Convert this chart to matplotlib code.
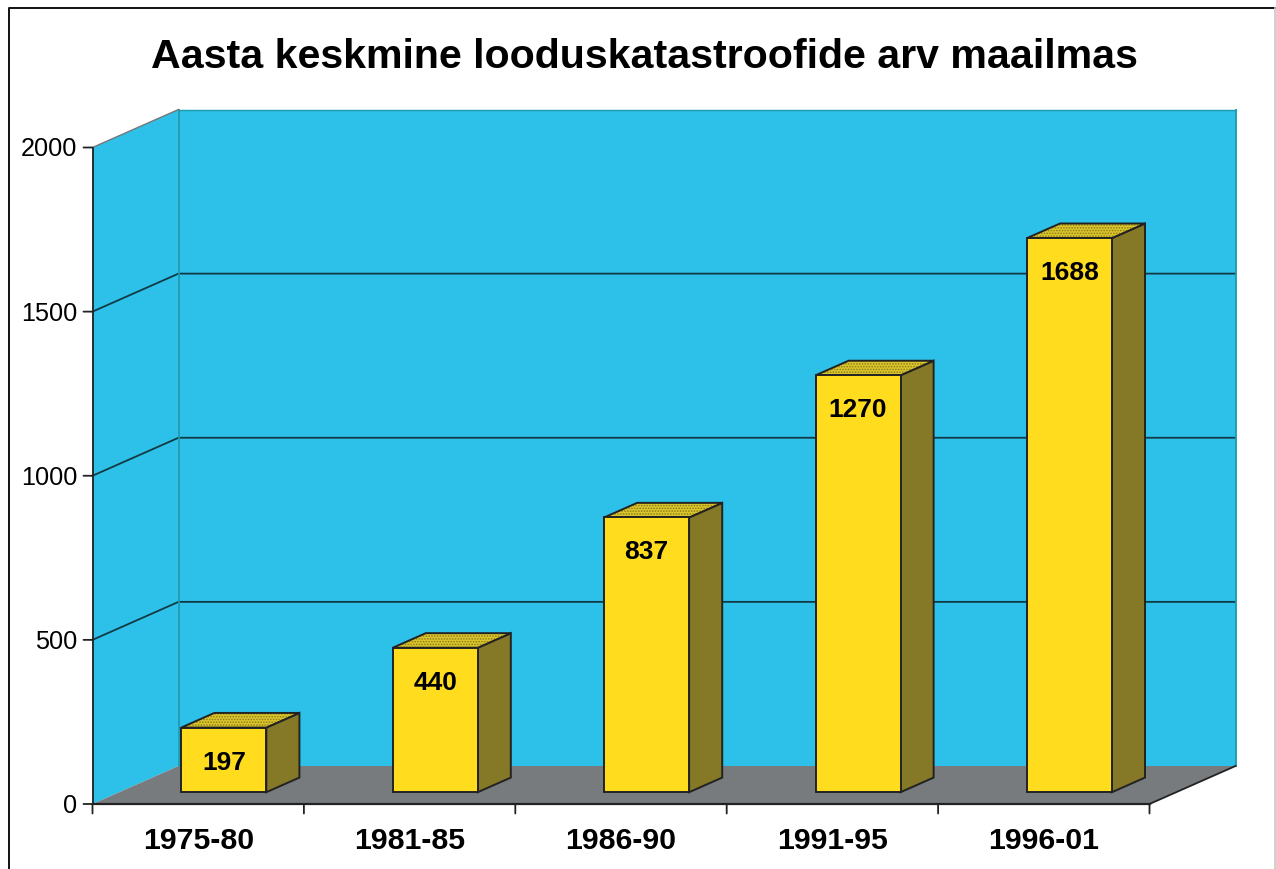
import matplotlib
matplotlib.use("Agg")
import matplotlib.pyplot as plt
from matplotlib.lines import Line2D
from matplotlib.patches import Polygon

plt.rcParams["font.family"] = ["Liberation Sans", "DejaVu Sans"]
plt.rcParams["hatch.linewidth"] = 0.8

TITLE = "Aasta keskmine looduskatastroofide arv maailmas"
periods = ["1975-80", "1981-85", "1986-90", "1991-95", "1996-01"]
disasters = [197, 440, 837, 1270, 1688]
y_ticks = [0, 500, 1000, 1500, 2000]

W, H = 1276, 870
X0, X1, Y0, Y1 = 92.5, 1149.5, 805, 148.5  # front plane in pixels
DX = 86 / (X1 - X0) * len(periods)  # depth offset, category units
DY = 38 / (Y0 - Y1) * y_ticks[-1]  # depth offset, value units

WALL = "#2DC0E8"
WALL_LINE = "#1C9AAE"
GRID = "#123A44"
FLOOR = "#787B7E"
FRONT = "#FFDC1E"
SIDE = "#857826"
TOP = "#DCC62A"
TOP_DOT = "#8A7C20"
INK = "#222222"


def proj(x, y, d):
    return (x + d * DX, y + d * DY)


fig = plt.figure(figsize=(W / 100, H / 100), dpi=100, facecolor="white")
ax = fig.add_axes([X0 / W, 1 - Y0 / H, (X1 - X0) / W, (Y0 - Y1) / H])
ax.set_xlim(0, len(periods))
ax.set_ylim(y_ticks[0], y_ticks[-1])
ax.axis("off")

n = len(periods)
top = y_ticks[-1]

# walls and floor
ax.add_patch(Polygon([proj(0, 0, 1), proj(n, 0, 1), proj(n, top, 1), proj(0, top, 1)],
                     fc=WALL, ec="none", clip_on=False))
ax.add_patch(Polygon([proj(0, 0, 0), proj(0, 0, 1), proj(0, top, 1), proj(0, top, 0)],
                     fc=WALL, ec="none", clip_on=False))
ax.add_patch(Polygon([proj(0, 0, 0), proj(n, 0, 0), proj(n, 0, 1), proj(0, 0, 1)],
                     fc=FLOOR, ec="none", clip_on=False))

# grid lines
for t in y_ticks[1:-1]:
    ax.plot(*zip(proj(0, t, 0), proj(0, t, 1), proj(n, t, 1)), color=GRID, lw=1.3, clip_on=False)
ax.plot(*zip(proj(0, 0, 1), proj(0, top, 1)), color=WALL_LINE, lw=1.3, clip_on=False)
ax.plot(*zip(proj(n, 0, 1), proj(n, top, 1)), color=WALL_LINE, lw=1.3, clip_on=False)
ax.plot(*zip(proj(0, top, 1), proj(n, top, 1)), color=WALL_LINE, lw=1, clip_on=False)
ax.plot(*zip(proj(0, top, 0), proj(0, top, 1)), color="#777777", lw=1, clip_on=False)

# axes lines and ticks
ax.plot([0, 0], [0, top], color=INK, lw=1.3, clip_on=False)
ax.plot([0, n], [0, 0], color=INK, lw=1.6, clip_on=False)
ax.plot(*zip(proj(n, 0, 0), proj(n, 0, 1)), color=INK, lw=1.3, clip_on=False)
for t in y_ticks:
    ax.annotate(str(t), (0, t), xytext=(-15, -1), textcoords="offset pixels",
                ha="right", va="center", fontsize=18.2, annotation_clip=False)
    ax.annotate("", (0, t), xytext=(-9, 0), textcoords="offset pixels",
                arrowprops=dict(arrowstyle="-", color=INK, lw=1.3, shrinkA=0, shrinkB=0),
                annotation_clip=False)
for i in range(n + 1):
    ax.annotate("", (i, 0), xytext=(0, -9.5), textcoords="offset pixels",
                arrowprops=dict(arrowstyle="-", color=INK, lw=1.3, shrinkA=0, shrinkB=0),
                annotation_clip=False)

# 3d bars
bar_w = 85 / (X1 - X0) * n
d0, d1 = 0.31, 0.695
for i, (label, v) in enumerate(zip(periods, disasters)):
    xl = i + 0.5 - bar_w / 2 - 0.005
    xr = xl + bar_w
    ax.add_patch(Polygon([proj(xr, 0, d0), proj(xr, 0, d1), proj(xr, v, d1), proj(xr, v, d0)],
                         fc=SIDE, ec=INK, lw=1.4, clip_on=False, zorder=3))
    top_face = [proj(xl, v, d0), proj(xr, v, d0), proj(xr, v, d1), proj(xl, v, d1)]
    ax.add_patch(Polygon(top_face, fc=TOP, ec=TOP_DOT, lw=0, hatch="......", clip_on=False, zorder=3))
    ax.add_patch(Polygon(top_face, fill=False, ec=INK, lw=1.4, clip_on=False, zorder=3))
    ax.add_patch(Polygon([proj(xl, 0, d0), proj(xr, 0, d0), proj(xr, v, d0), proj(xl, v, d0)],
                         fc=FRONT, ec=INK, lw=1.4, clip_on=False, zorder=4))
    cx, cy = proj(i + 0.5, v, d0)
    ax.annotate(str(v), (cx, cy), xytext=(-1, -34), textcoords="offset pixels",
                ha="center", va="center", fontsize=19, fontweight="bold",
                zorder=5, annotation_clip=False)
    ax.annotate(label, (i + 0.5, 0), xytext=(0, -36), textcoords="offset pixels",
                ha="center", va="center", fontsize=21.8, fontweight="bold",
                annotation_clip=False)

fig.text(644.5 / W, 1 - 57 / H, TITLE, ha="center", va="center", fontsize=29.6, fontweight="bold")

# frame: black top and left, faint grey right edge
fig.add_artist(Line2D([8.5 / W, 8.5 / W, 1], [0, 1 - 9 / H, 1 - 9 / H],
                      transform=fig.transFigure, color="#111111", lw=1.4))
fig.add_artist(Line2D([1275 / W, 1275 / W], [0, 1 - 9 / H],
                      transform=fig.transFigure, color="#C8C8C8", lw=1.2))

fig.savefig("out.png", dpi=100)
